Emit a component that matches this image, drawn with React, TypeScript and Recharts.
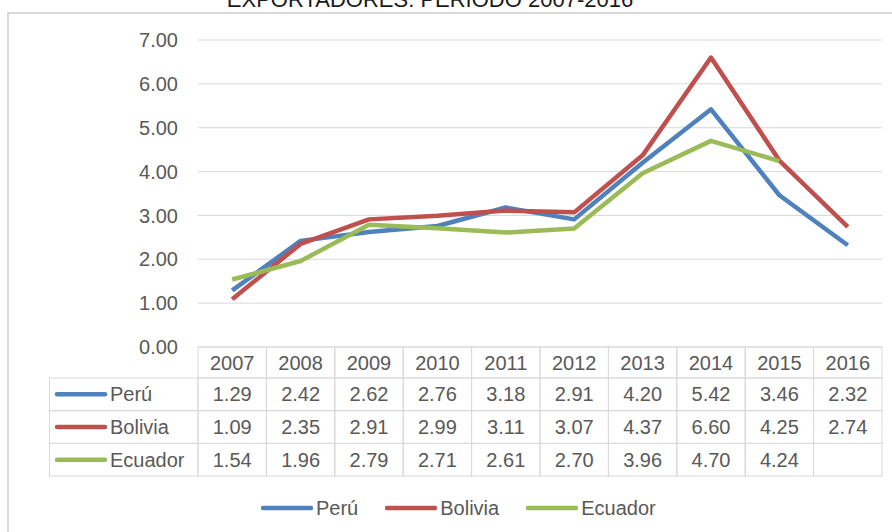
import { LineChart, Line, XAxis, YAxis, CartesianGrid, Legend } from "recharts";

const years = ["2007", "2008", "2009", "2010", "2011", "2012", "2013", "2014", "2015", "2016"];
const peru = [1.29, 2.42, 2.62, 2.76, 3.18, 2.91, 4.2, 5.42, 3.46, 2.32];
const bolivia = [1.09, 2.35, 2.91, 2.99, 3.11, 3.07, 4.37, 6.6, 4.25, 2.74];
const ecuador = [1.54, 1.96, 2.79, 2.71, 2.61, 2.7, 3.96, 4.7, 4.24, null];
const yTicks = [0, 1, 2, 3, 4, 5, 6, 7];
const title = "EXPORTADORES: PERIODO 2007-2016";

const series = [
  { key: "peru", name: "Perú", color: "#4F81BD", values: peru },
  { key: "bolivia", name: "Bolivia", color: "#C0504D", values: bolivia },
  { key: "ecuador", name: "Ecuador", color: "#9BBB59", values: ecuador },
];

const data = years.map((y, i) => ({ year: y, peru: peru[i], bolivia: bolivia[i], ecuador: ecuador[i] }));

const W = 892;
const H = 532;
const LEFT = 198;
const RIGHT = 10;
const COL_W = (W - LEFT - RIGHT) / years.length;
const HEAD_H = 31;
const ROW_H = 32.7;
const LABEL_X = 49.5;
const FONT = "'Liberation Sans', Arial, sans-serif";
const GREY = "#595959";
const BORDER = "#d9d9d9";

function TableTick(props: any) {
  const { x, y, payload, index } = props;
  const left = x - COL_W / 2;
  const i = payload.index ?? index;
  return (
    <g>
      {index === 0 &&
        series.map((s, r) => {
          const top = y + HEAD_H + r * ROW_H;
          const cy = top + ROW_H / 2;
          return (
            <g key={s.key}>
              <rect x={LABEL_X} y={top} width={left - LABEL_X} height={ROW_H} fill="none" stroke={BORDER} />
              <line x1={57} x2={105} y1={cy} y2={cy} stroke={s.color} strokeWidth={4.5} strokeLinecap="round" />
              <text x={110} y={cy} dominantBaseline="central" fontSize={20} fontFamily={FONT} fill={GREY}>
                {s.name}
              </text>
            </g>
          );
        })}
      <rect x={left} y={y} width={COL_W} height={HEAD_H} fill="none" stroke={BORDER} />
      <text x={x} y={y + HEAD_H / 2} textAnchor="middle" dominantBaseline="central" fontSize={20} fontFamily={FONT} fill={GREY}>
        {payload.value}
      </text>
      {series.map((s, r) => {
        const top = y + HEAD_H + r * ROW_H;
        const v = s.values[i];
        return (
          <g key={s.key}>
            <rect x={left} y={top} width={COL_W} height={ROW_H} fill="none" stroke={BORDER} />
            {v != null && (
              <text x={x} y={top + ROW_H / 2} textAnchor="middle" dominantBaseline="central" fontSize={20} fontFamily={FONT} fill={GREY}>
                {v.toFixed(2)}
              </text>
            )}
          </g>
        );
      })}
    </g>
  );
}

function LegendContent(props: any) {
  const order = series.map((s) => s.name);
  const items = [...(props.payload || [])].sort((a: any, b: any) => order.indexOf(a.value) - order.indexOf(b.value));
  return (
    <div style={{ height: 55, display: "flex", alignItems: "center", paddingTop: 7, paddingLeft: 261, boxSizing: "border-box" }}>
      {items.map((it: any) => (
        <div key={it.value} style={{ display: "flex", alignItems: "center", marginRight: 27 }}>
          <svg width={52} height={8}>
            <line x1={2} x2={50} y1={4} y2={4} stroke={it.color} strokeWidth={4.5} strokeLinecap="round" />
          </svg>
          <span style={{ fontFamily: FONT, fontSize: 20, color: GREY, marginLeft: 3 }}>{it.value}</span>
        </div>
      ))}
    </div>
  );
}

export default function App() {
  return (
    <div style={{ position: "absolute", left: 0, top: 0, width: W, height: H, overflow: "hidden", background: "#fff" }}>
      <div style={{ position: "absolute", left: 7, top: 12, width: 950, height: 600, border: `2px solid ${BORDER}` }} />
      <svg style={{ position: "absolute", left: 0, top: 0 }} width={W} height={20}>
        <text x={430} y={7} textAnchor="middle" fontSize={22} fontFamily={FONT} fill="#1a1a1a">
          {title}
        </text>
      </svg>
      <div style={{ position: "absolute", left: 0, top: 0 }}>
        <LineChart width={W} height={H} data={data} margin={{ top: 40, right: RIGHT, left: 0, bottom: 0 }}>
          <CartesianGrid vertical={false} stroke={BORDER} strokeWidth={1} />
          <XAxis
            dataKey="year"
            height={130}
            padding={{ left: COL_W / 2, right: COL_W / 2 }}
            axisLine={false}
            tickLine={false}
            tickSize={0}
            tickMargin={0}
            interval={0}
            tick={<TableTick />}
          />
          <YAxis
            width={LEFT}
            domain={[0, 7]}
            ticks={yTicks}
            tickFormatter={(v: number) => v.toFixed(2)}
            axisLine={false}
            tickLine={false}
            tickMargin={14}
            tick={{ fill: GREY, fontSize: 20, fontFamily: FONT }}
          />
          {series.map((s) => (
            <Line
              key={s.key}
              type="linear"
              dataKey={s.key}
              name={s.name}
              stroke={s.color}
              strokeWidth={4.5}
              strokeLinejoin="round"
              dot={false}
              activeDot={false}
              isAnimationActive={false}
            />
          ))}
          <Legend verticalAlign="bottom" height={55} wrapperStyle={{ left: 0, bottom: 0, width: W, height: 55 }} content={<LegendContent />} />
        </LineChart>
      </div>
    </div>
  );
}
